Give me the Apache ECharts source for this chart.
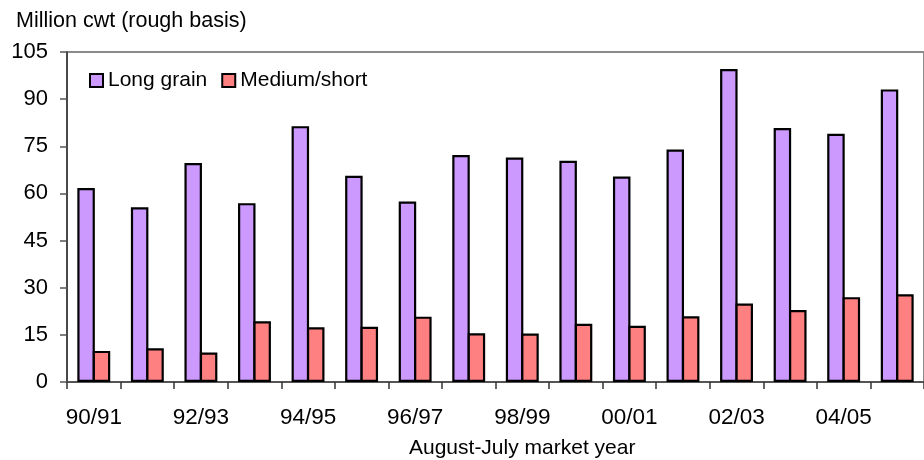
<!DOCTYPE html>
<html>
<head>
<meta charset="utf-8">
<title>Rice use by class</title>
<script src="https://cdn.jsdelivr.net/npm/echarts@6/dist/echarts.min.js"></script>
<style>
  html, body { margin: 0; padding: 0; background: #fff; }
  #chart { width: 924px; height: 460px; }
</style>
</head>
<body>
<div id="chart"></div>
<script>
// Market years (August-July)
const years = ['90/91', '91/92', '92/93', '93/94', '94/95', '95/96', '96/97', '97/98',
               '98/99', '99/00', '00/01', '01/02', '02/03', '03/04', '04/05', '05/06'];

// Million cwt, rough basis
const longGrain = [61.7, 55.6, 69.7, 56.9, 81.4, 65.6, 57.4, 72.2,
                   71.4, 70.4, 65.4, 74.0, 99.6, 80.8, 79.0, 93.1];
const mediumShort = [9.9, 10.7, 9.4, 19.3, 17.4, 17.6, 20.8, 15.5,
                     15.4, 18.5, 17.9, 20.9, 25.0, 22.9, 27.0, 27.9];

const yTicks = { min: 0, max: 105, step: 15 };

const FONT = '"Liberation Sans", Arial, sans-serif';

const chart = echarts.init(document.getElementById('chart'), null, { renderer: 'canvas' });

// Bars sit side by side; the overlap lets neighbouring outlines share one black edge.
const BAR_WIDTH = 17.5;
const BAR_GAP = '-12%';

chart.setOption({
  animation: false,
  backgroundColor: '#ffffff',
  textStyle: { fontFamily: FONT, color: '#000' },
  title: {
    text: 'Million cwt (rough basis)',
    left: 16,
    top: 10,
    padding: 0,
    textStyle: { fontFamily: FONT, fontSize: 21.5, fontWeight: 'normal', color: '#000' }
  },
  graphic: [{
    type: 'text',
    left: 409,
    top: 438,
    style: {
      text: 'August-July market year',
      font: '21px ' + FONT,
      fill: '#000'
    }
  }],
  legend: {
    left: 89,
    top: 70,
    padding: 0,
    itemWidth: 13,
    itemHeight: 13,
    itemGap: 14,
    icon: 'rect',
    itemStyle: { borderColor: '#000', borderWidth: 2 },
    textStyle: { fontFamily: FONT, fontSize: 21, color: '#000' },
    data: ['Long grain', 'Medium/short']
  },
  grid: {
    left: 67,
    right: -7,
    top: 52,
    bottom: 78,
    show: true,
    borderColor: '#8a8a8a',
    borderWidth: 2,
    containLabel: false
  },
  xAxis: {
    type: 'category',
    data: years,
    boundaryGap: true,
    axisLine: { show: true, lineStyle: { color: '#555', width: 2 } },
    axisTick: { show: true, length: 7, alignWithLabel: false, interval: 0, lineStyle: { color: '#333', width: 1.5 } },
    axisLabel: { interval: 1, margin: 24, fontFamily: FONT, fontSize: 22.5, color: '#000' },
    splitLine: { show: false }
  },
  yAxis: {
    type: 'value',
    min: yTicks.min,
    max: yTicks.max,
    interval: yTicks.step,
    axisLine: { show: true, lineStyle: { color: '#333', width: 1.5 } },
    axisTick: { show: true, length: 7, lineStyle: { color: '#555', width: 1.5 } },
    axisLabel: { margin: 19, fontFamily: FONT, fontSize: 22, color: '#000' },
    splitLine: { show: false }
  },
  series: [
    {
      name: 'Long grain',
      type: 'bar',
      data: longGrain,
      barWidth: BAR_WIDTH,
      barGap: BAR_GAP,
      itemStyle: { color: '#CC99FF', borderColor: '#000', borderWidth: 2.2 }
    },
    {
      name: 'Medium/short',
      type: 'bar',
      data: mediumShort,
      barWidth: BAR_WIDTH,
      barGap: BAR_GAP,
      itemStyle: { color: '#FF8080', borderColor: '#000', borderWidth: 2.2 }
    }
  ]
});
</script>
</body>
</html>
